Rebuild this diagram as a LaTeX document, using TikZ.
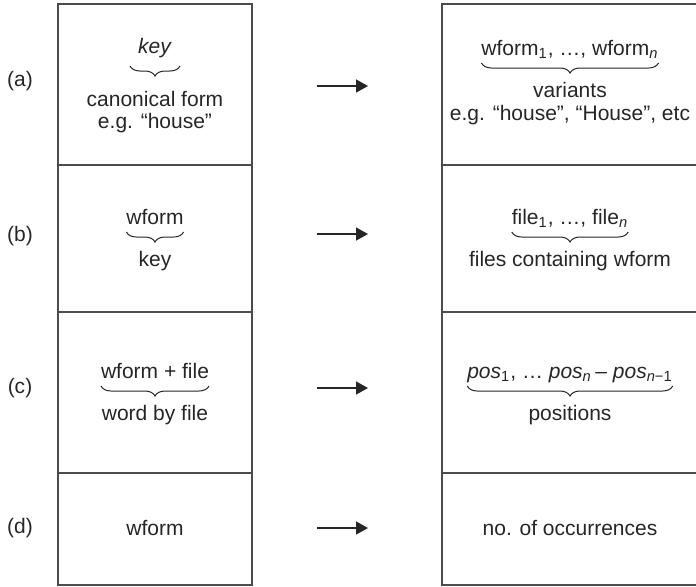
\documentclass[tikz,border=0pt]{standalone}
\usepackage{fontspec}
\setmainfont{Liberation Sans}
\usetikzlibrary{positioning, arrows.meta, decorations.pathreplacing}

\begin{document}
\begin{tikzpicture}[x=0.5pt, y=-0.5pt,
	font=\fontsize{10.5}{12}\selectfont,
	text=black!85,
	cell/.style={draw=black!70, line width=0.75pt},
	word/.style={inner sep=0pt, outer sep=0pt, anchor=base},
	under/.style={decorate, decoration={brace, mirror, amplitude=5pt}, line width=0.5pt, draw=black!85},
	goes/.style={-{Triangle[length=6pt, width=6.5pt]}, line width=0.75pt, draw=black!85}
	]
	\useasboundingbox (0,0) rectangle (696,586);

	% the two columns
	\draw[cell] (58,4) rectangle (252,585);
	\draw[cell] (58,165) -- (252,165) (58,312) -- (252,312) (58,473) -- (252,473);
	\draw[cell] (700,4) -- (442,4) -- (442,585) -- (700,585);
	\draw[cell] (442,165) -- (700,165) (442,312) -- (700,312) (442,473) -- (700,473);

	% row labels
	\node (rowa) at (20,81) {(a)};
	\node (rowb) at (20,236) {(b)};
	\node (rowc) at (20,388) {(c)};
	\node (rowd) at (20,528) {(d)};

	% (a)
	\node[word, minimum width=25pt] (keyA) at (155,53) {\textit{key}};
	\draw[under] ([yshift=-6.5pt]keyA.base west) -- ([yshift=-6.5pt]keyA.base east);
	\node[word] (canonA) at (155,106) {canonical form};
	\node[word] (egA) at (155,128) {e.g. “house”};
	\node[word] (wformsA) at (570,55) {wform\textsubscript{1}, …, wform\textsubscript{\itshape n}};
	\draw[under] ([yshift=-4pt]wformsA.base west) -- ([yshift=-4pt]wformsA.base east);
	\node[word] (variantsA) at (570,97) {variants};
	\node[word] (egvA) at (570,120) {e.g. “house”, “House”, etc};

	% (b)
	\node[word] (wformB) at (155,224) {wform};
	\draw[under] ([yshift=-4pt]wformB.base west) -- ([yshift=-4pt]wformB.base east);
	\node[word] (keyB) at (155,266) {key};
	\node[word] (filesB) at (570,224) {file\textsubscript{1}, …, file\textsubscript{\itshape n}};
	\draw[under] ([yshift=-4pt]filesB.base west) -- ([yshift=-4pt]filesB.base east);
	\node[word] (containB) at (570,266) {files containing wform};

	% (c)
	\node[word] (pairC) at (155,378) {wform + file};
	\draw[under] ([yshift=-4pt]pairC.base west) -- ([yshift=-4pt]pairC.base east);
	\node[word] (byfileC) at (155,420) {word by file};
	\node[word] (posC) at (570,378) {\textit{pos}\textsubscript{1}, … \textit{pos}\textsubscript{\itshape n}\,– \textit{pos}\textsubscript{\itshape n\upshape −1}};
	\draw[under] ([yshift=-4pt]posC.base west) -- ([yshift=-4pt]posC.base east);
	\node[word] (positionsC) at (570,420) {positions};

	% (d)
	\node[word] (wformD) at (155,535) {wform};
	\node[word] (countD) at (570,535) {no. of occurrences};

	% arrows
	\foreach \r/\y in {a/86, b/234, c/388, d/528} {
		\coordinate (from\r) at (317,\y);
		\coordinate (to\r) at (368,\y);
		\draw[goes] (from\r) -- (to\r);
	}
\end{tikzpicture}
\end{document}
